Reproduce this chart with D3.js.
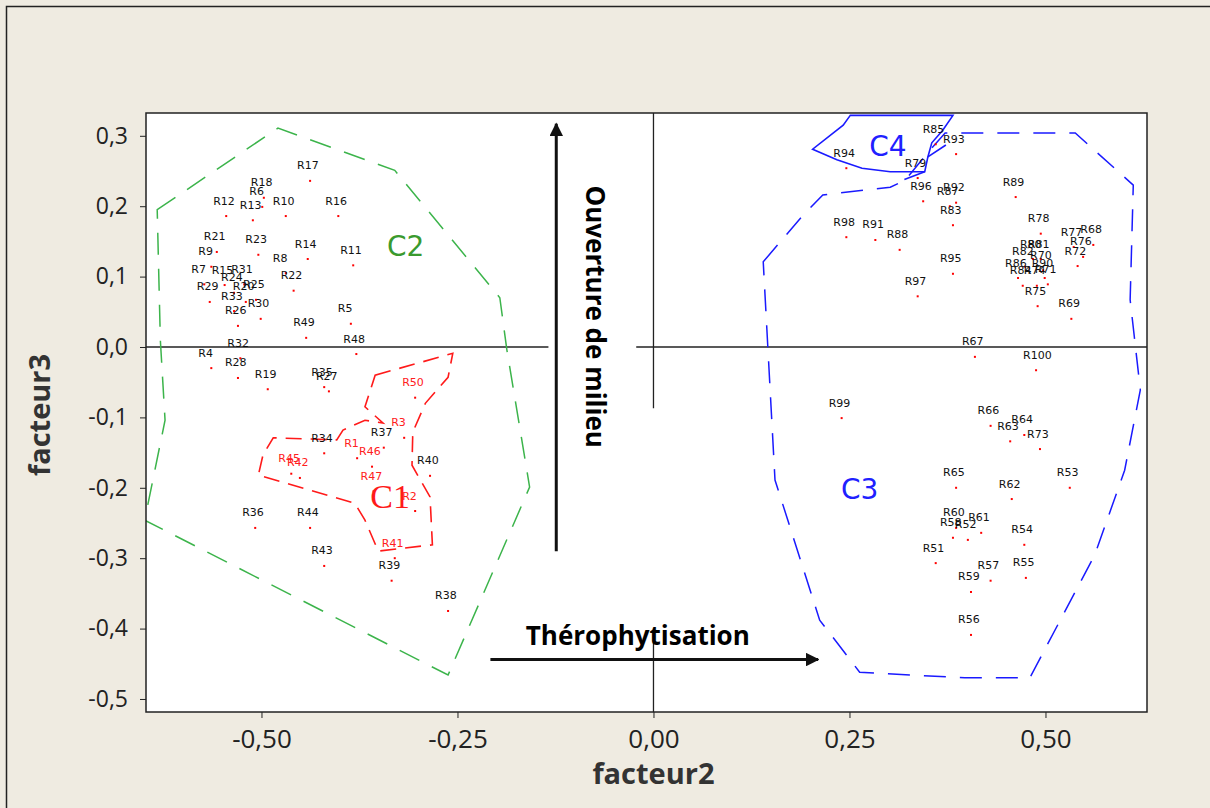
<!DOCTYPE html>
<html>
<head>
<meta charset="utf-8">
<script src="https://cdn.jsdelivr.net/npm/d3@7"></script>
<style>
	body { margin: 0; background: #efebe1; }
	svg { display: block; }
</style>
</head>
<body>
<svg id="chart" width="1210" height="808"></svg>
<script>
// releves: name, facteur2, facteur3, group (1 = C1, red labels)
var releves = [
	["R1", -0.378, -0.158, 1], ["R2", -0.304, -0.233, 1], ["R3", -0.318, -0.129, 1],
	["R4", -0.564, -0.030, 2], ["R5", -0.386, 0.033, 2], ["R6", -0.499, 0.199, 2],
	["R7", -0.573, 0.089, 2], ["R8", -0.469, 0.105, 2], ["R9", -0.564, 0.114, 2],
	["R10", -0.469, 0.186, 2], ["R11", -0.383, 0.116, 2], ["R12", -0.545, 0.186, 2],
	["R13", -0.511, 0.180, 2], ["R14", -0.441, 0.125, 2], ["R15", -0.547, 0.088, 2],
	["R16", -0.402, 0.186, 2], ["R17", -0.438, 0.236, 2], ["R18", -0.497, 0.212, 2],
	["R19", -0.492, -0.060, 2], ["R20", -0.520, 0.064, 2], ["R21", -0.557, 0.135, 2],
	["R22", -0.459, 0.080, 2], ["R23", -0.504, 0.131, 2], ["R24", -0.535, 0.077, 2],
	["R25", -0.507, 0.067, 2], ["R26", -0.530, 0.030, 2], ["R27", -0.414, -0.063, 2],
	["R28", -0.530, -0.044, 2], ["R29", -0.566, 0.064, 2], ["R30", -0.501, 0.040, 2],
	["R31", -0.522, 0.089, 2], ["R32", -0.527, -0.016, 2], ["R33", -0.535, 0.051, 2],
	["R34", -0.420, -0.151, 2], ["R35", -0.420, -0.057, 2], ["R36", -0.508, -0.257, 2],
	["R37", -0.344, -0.143, 2], ["R38", -0.262, -0.375, 2], ["R39", -0.334, -0.332, 2],
	["R40", -0.285, -0.183, 2], ["R41", -0.330, -0.300, 1], ["R42", -0.451, -0.186, 1],
	["R43", -0.420, -0.311, 2], ["R44", -0.438, -0.257, 2], ["R45", -0.462, -0.180, 1],
	["R46", -0.359, -0.170, 1], ["R47", -0.357, -0.205, 1], ["R48", -0.379, -0.010, 2],
	["R49", -0.443, 0.013, 2], ["R50", -0.304, -0.072, 1],
	["R51", 0.360, -0.307, 3], ["R52", 0.401, -0.274, 3], ["R53", 0.531, -0.200, 3],
	["R54", 0.473, -0.281, 3], ["R55", 0.475, -0.328, 3], ["R56", 0.405, -0.409, 3],
	["R57", 0.430, -0.332, 3], ["R58", 0.382, -0.271, 3], ["R59", 0.405, -0.348, 3],
	["R60", 0.386, -0.257, 3], ["R61", 0.418, -0.264, 3], ["R62", 0.457, -0.216, 3],
	["R63", 0.455, -0.134, 3], ["R64", 0.473, -0.125, 3], ["R65", 0.386, -0.200, 3],
	["R66", 0.430, -0.112, 3], ["R67", 0.410, -0.014, 3], ["R68", 0.561, 0.145, 3],
	["R69", 0.533, 0.040, 3], ["R70", 0.497, 0.109, 3], ["R71", 0.503, 0.089, 3],
	["R72", 0.541, 0.115, 3], ["R73", 0.493, -0.145, 3], ["R74", 0.489, 0.087, 3],
	["R75", 0.490, 0.058, 3], ["R76", 0.548, 0.128, 3], ["R77", 0.536, 0.142, 3],
	["R78", 0.494, 0.161, 3], ["R79", 0.337, 0.240, 4], ["R80", 0.484, 0.125, 3],
	["R81", 0.494, 0.125, 3], ["R82", 0.474, 0.114, 3], ["R83", 0.382, 0.173, 3],
	["R84", 0.471, 0.087, 3], ["R85", 0.360, 0.288, 4], ["R86", 0.465, 0.098, 3],
	["R87", 0.378, 0.200, 3], ["R88", 0.314, 0.138, 3], ["R89", 0.462, 0.213, 3],
	["R90", 0.499, 0.098, 3], ["R91", 0.283, 0.152, 3], ["R92", 0.386, 0.205, 3],
	["R93", 0.386, 0.274, 4], ["R94", 0.246, 0.254, 4], ["R95", 0.382, 0.104, 3],
	["R96", 0.344, 0.207, 3], ["R97", 0.337, 0.072, 3], ["R98", 0.246, 0.156, 3],
	["R99", 0.240, -0.101, 3], ["R100", 0.488, -0.033, 3]
];

// hand drawn group outlines (facteur2, facteur3)
var hullC1 = [
	[-0.355, -0.040], [-0.256, -0.009], [-0.262, -0.043], [-0.291, -0.080],
	[-0.307, -0.121], [-0.308, -0.168], [-0.285, -0.213], [-0.282, -0.281],
	[-0.351, -0.290], [-0.368, -0.246], [-0.381, -0.222], [-0.504, -0.182],
	[-0.498, -0.153], [-0.485, -0.129], [-0.404, -0.132], [-0.396, -0.118],
	[-0.368, -0.104], [-0.345, -0.108], [-0.368, -0.085]
];
var hullC2 = [
	[-0.633, 0.195], [-0.479, 0.311], [-0.330, 0.251], [-0.196, 0.070],
	[-0.187, -0.004], [-0.158, -0.199], [-0.262, -0.466], [-0.649, -0.246],
	[-0.623, -0.104], [-0.629, 0.010]
];
var hullC3 = [
	[0.140, 0.121], [0.189, 0.185], [0.216, 0.216], [0.302, 0.227],
	[0.321, 0.237], [0.353, 0.280], [0.372, 0.304], [0.538, 0.304],
	[0.612, 0.230], [0.608, 0.067], [0.621, -0.061], [0.601, -0.175],
	[0.563, -0.295], [0.480, -0.470], [0.397, -0.470], [0.263, -0.462],
	[0.212, -0.388], [0.155, -0.189]
];
var hullC4 = [
	[0.251, 0.329], [0.242, 0.315], [0.203, 0.281], [0.234, 0.266],
	[0.266, 0.254], [0.302, 0.249], [0.346, 0.249], [0.350, 0.270],
	[0.355, 0.290], [0.369, 0.308], [0.382, 0.329]
];
var hullC4extra = [[[0.346, 0.249], [0.320, 0.238]], [[0.350, 0.270], [0.373, 0.287]]];

// group names and where they are written
var groupNames = ["C1", "C2", "C3", "C4"];
var groupLabelX = [-0.336, -0.316, 0.263, 0.299];
var groupLabelY = [-0.213, 0.145, -0.200, 0.287];

var xTicks = [-0.50, -0.25, 0.00, 0.25, 0.50];
var yTicks = [-0.5, -0.4, -0.3, -0.2, -0.1, 0.0, 0.1, 0.2, 0.3];

var svg = d3.select("#chart");
var W = 1210, H = 808;
var pLeft = 146, pRight = 1147, pTop = 113, pBottom = 712;

var x = d3.scaleLinear().domain([-0.6473, 0.6295]).range([pLeft, pRight]);
var y = d3.scaleLinear().domain([-0.5185, 0.3324]).range([pBottom, pTop]);

var fr = d3.formatLocale({decimal: ",", thousands: ".", grouping: [3], currency: ["", ""], minus: "-"});

// outer frame
svg.append("rect")
	.attr("x", 6.5).attr("y", 6.5)
	.attr("width", W).attr("height", H)
	.attr("fill", "#efebe1")
	.attr("stroke", "#222").attr("stroke-width", 1.5);

svg.append("rect")
	.attr("x", pLeft).attr("y", pTop)
	.attr("width", pRight - pLeft).attr("height", pBottom - pTop)
	.attr("fill", "white");

var defs = svg.append("defs");
defs.append("clipPath").attr("id", "plotclip")
	.append("rect")
	.attr("x", pLeft).attr("y", pTop)
	.attr("width", pRight - pLeft).attr("height", pBottom - pTop);

defs.append("marker")
	.attr("id", "arrow")
	.attr("viewBox", "0 -5 10 10")
	.attr("refX", 9).attr("refY", 0)
	.attr("markerWidth", 4.5).attr("markerHeight", 4.5)
	.attr("orient", "auto")
	.append("path")
	.attr("d", "M0,-5L10,0L0,5Z")
	.attr("fill", "#111");

var plot = svg.append("g").attr("clip-path", "url(#plotclip)");

// reference lines at zero (broken around the arrow texts)
plot.append("line")
	.attr("x1", x(-0.6473)).attr("x2", x(-0.134))
	.attr("y1", y(0)).attr("y2", y(0))
	.attr("stroke", "#222").attr("stroke-width", 1.3);
plot.append("line")
	.attr("x1", x(-0.022)).attr("x2", x(0.6295))
	.attr("y1", y(0)).attr("y2", y(0))
	.attr("stroke", "#222").attr("stroke-width", 1.3);
plot.append("line")
	.attr("x1", x(0)).attr("x2", x(0))
	.attr("y1", y(0.3324)).attr("y2", y(-0.087))
	.attr("stroke", "#222").attr("stroke-width", 1.3);
plot.append("line")
	.attr("x1", x(0)).attr("x2", x(0))
	.attr("y1", y(-0.42)).attr("y2", y(-0.5185))
	.attr("stroke", "#222").attr("stroke-width", 1.3);

var line = d3.line()
	.x(function(d) { return x(d[0]); })
	.y(function(d) { return y(d[1]); });

// group outlines
plot.append("path").attr("d", line(hullC2) + "Z")
	.attr("fill", "none").attr("stroke", "#3cb44b")
	.attr("stroke-width", 1.5).attr("stroke-dasharray", "22,14");
plot.append("path").attr("d", line(hullC1) + "Z")
	.attr("fill", "none").attr("stroke", "#ff1a1a")
	.attr("stroke-width", 1.6).attr("stroke-dasharray", "16,9");
plot.append("path").attr("d", line(hullC3) + "Z")
	.attr("fill", "none").attr("stroke", "#1a1aff")
	.attr("stroke-width", 1.5).attr("stroke-dasharray", "22,14");
plot.append("path").attr("d", line(hullC4) + "Z")
	.attr("fill", "none").attr("stroke", "#1a1aff")
	.attr("stroke-width", 1.6);
plot.selectAll(".c4extra")
	.data(hullC4extra)
	.enter().append("path")
	.attr("class", "c4extra")
	.attr("d", line)
	.attr("fill", "none").attr("stroke", "#1a1aff").attr("stroke-width", 1.6);

// points
plot.selectAll(".pt")
	.data(releves)
	.enter().append("rect")
	.attr("class", "pt")
	.attr("x", function(d) { return x(d[1]) - 1; })
	.attr("y", function(d) { return y(d[2]) - 1; })
	.attr("width", 2).attr("height", 2)
	.attr("fill", "#ff0000");

plot.selectAll(".ptlabel")
	.data(releves)
	.enter().append("text")
	.attr("class", "ptlabel")
	.attr("x", function(d) { return x(d[1]) - 13; })
	.attr("y", function(d) { return y(d[2]) - 11.5; })
	.attr("font-family", "DejaVu Sans, Verdana, sans-serif")
	.attr("font-size", 11)
	.attr("fill", function(d) { return d[3] == 1 ? "#ff2020" : "#111"; })
	.text(function(d) { return d[0]; });

// group names
var groupColors = ["#ff1a1a", "#3a9a2e", "#2020ff", "#2020ff"];
plot.selectAll(".gname")
	.data(groupNames)
	.enter().append("text")
	.attr("class", "gname")
	.attr("x", function(d, i) { return x(groupLabelX[i]); })
	.attr("y", function(d, i) { return y(groupLabelY[i]) + 11; })
	.attr("text-anchor", "middle")
	.attr("font-family", function(d, i) { return i == 0 ? "Liberation Serif, serif" : "DejaVu Sans, sans-serif"; })
	.attr("font-size", function(d, i) { return i == 0 ? 34 : 28; })
	.attr("fill", function(d, i) { return groupColors[i]; })
	.text(String);

// arrows with their meaning
svg.append("line")
	.attr("x1", x(-0.124)).attr("y1", y(-0.290))
	.attr("x2", x(-0.124)).attr("y2", y(0.317))
	.attr("stroke", "#111").attr("stroke-width", 3)
	.attr("marker-end", "url(#arrow)");
svg.append("text")
	.attr("transform", "translate(" + x(-0.074) + "," + y(0.043) + ") rotate(90)")
	.attr("text-anchor", "middle")
	.attr("font-family", "Open Sans, sans-serif")
	.attr("font-weight", "bold")
	.attr("font-size", 26)
	.attr("dy", "0.35em")
	.text("Ouverture de milieu");

svg.append("line")
	.attr("x1", x(-0.208)).attr("y1", y(-0.444))
	.attr("x2", x(0.210)).attr("y2", y(-0.444))
	.attr("stroke", "#111").attr("stroke-width", 3)
	.attr("marker-end", "url(#arrow)");
svg.append("text")
	.attr("x", x(-0.020)).attr("y", y(-0.423))
	.attr("text-anchor", "middle")
	.attr("font-family", "Open Sans, sans-serif")
	.attr("font-weight", "bold")
	.attr("font-size", 26)
	.text("Thérophytisation");

// frame of the plot
svg.append("rect")
	.attr("x", pLeft).attr("y", pTop)
	.attr("width", pRight - pLeft).attr("height", pBottom - pTop)
	.attr("fill", "none").attr("stroke", "#222").attr("stroke-width", 1.5);

// axes
var xAxis = svg.append("g")
	.attr("transform", "translate(0," + pBottom + ")")
	.call(d3.axisBottom(x).tickValues(xTicks).tickFormat(fr.format(".2f")).tickSize(6).tickPadding(12));
var yAxis = svg.append("g")
	.attr("transform", "translate(" + pLeft + ",0)")
	.call(d3.axisLeft(y).tickValues(yTicks).tickFormat(fr.format(".1f")).tickSize(6).tickPadding(12));

xAxis.selectAll(".tick text").attr("font-size", 26);
yAxis.selectAll(".tick text").attr("font-size", 23);
[xAxis, yAxis].forEach(function(a) {
	a.select(".domain").remove();
	a.selectAll(".tick line").attr("stroke", "#222");
	a.selectAll(".tick text")
		.attr("font-family", "Open Sans, sans-serif")
		.attr("fill", "#222");
});

svg.append("text")
	.attr("x", x(0)).attr("y", 784)
	.attr("text-anchor", "middle")
	.attr("font-family", "Open Sans, sans-serif")
	.attr("font-weight", "bold")
	.attr("font-size", 29)
	.attr("fill", "#333")
	.text("facteur2");

svg.append("text")
	.attr("transform", "translate(50," + 415 + ") rotate(-90)")
	.attr("text-anchor", "middle")
	.attr("font-family", "Open Sans, sans-serif")
	.attr("font-weight", "bold")
	.attr("font-size", 29)
	.attr("fill", "#333")
	.text("facteur3");
</script>
</body>
</html>
